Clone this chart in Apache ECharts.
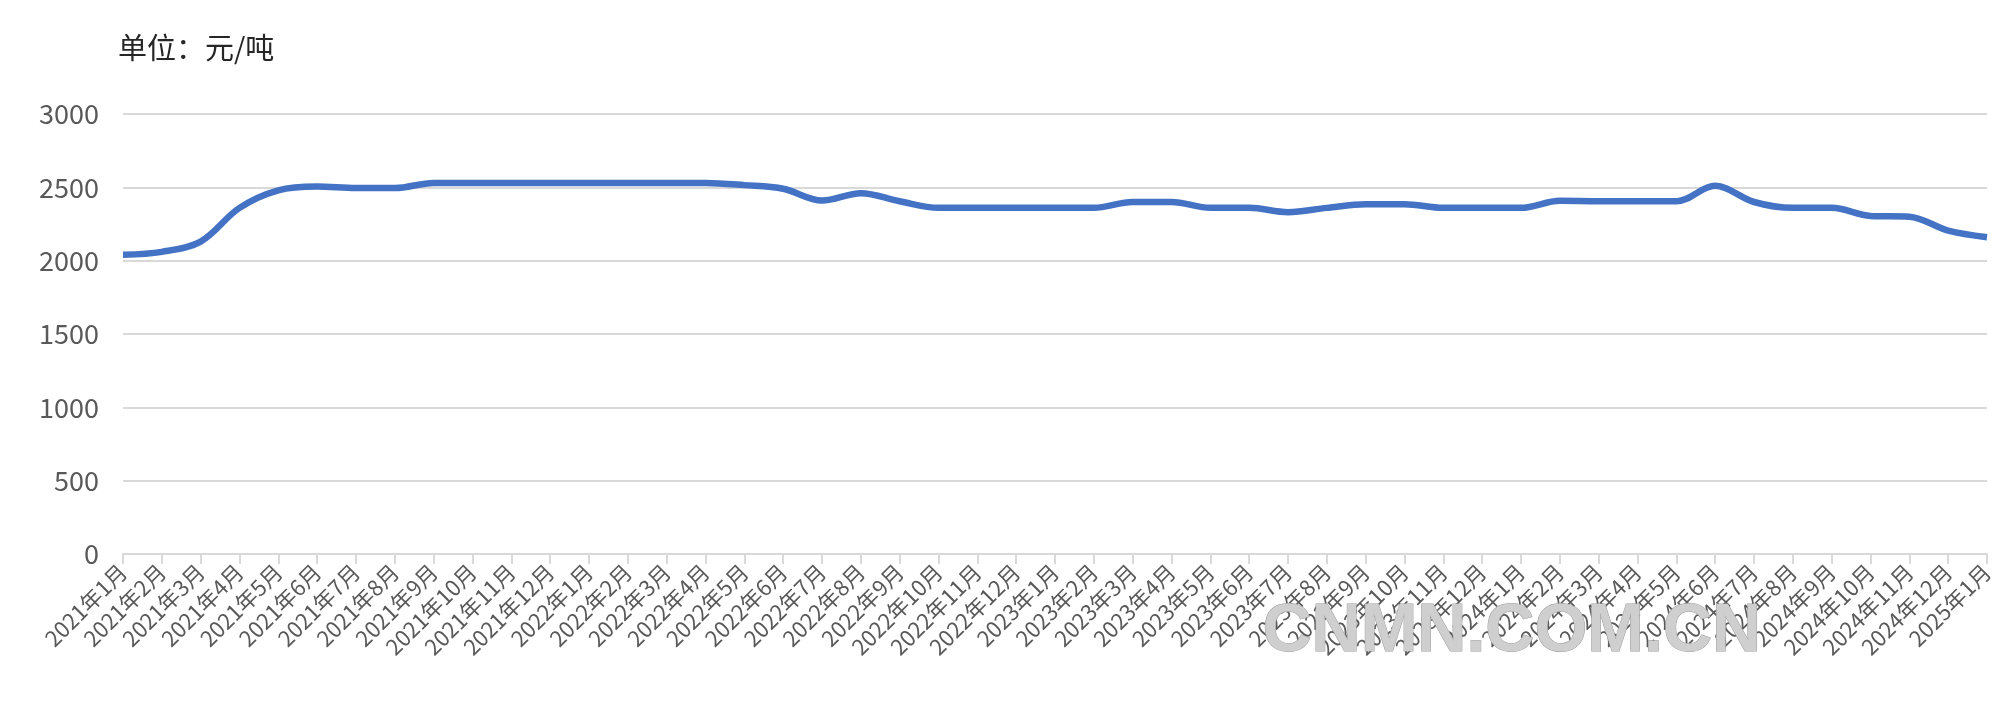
<!DOCTYPE html>
<html>
<head>
<meta charset="utf-8">
<script src="https://cdn.jsdelivr.net/npm/echarts@6/dist/echarts.min.js"></script>
<style>
html,body{margin:0;padding:0;background:#fff;}
#main{width:2013px;height:718px;}
</style>
</head>
<body>
<div id="main"></div>
<script>
const categories = [
  "2021年1月","2021年2月","2021年3月","2021年4月","2021年5月","2021年6月","2021年7月","2021年8月","2021年9月","2021年10月","2021年11月","2021年12月",
  "2022年1月","2022年2月","2022年3月","2022年4月","2022年5月","2022年6月","2022年7月","2022年8月","2022年9月","2022年10月","2022年11月","2022年12月",
  "2023年1月","2023年2月","2023年3月","2023年4月","2023年5月","2023年6月","2023年7月","2023年8月","2023年9月","2023年10月","2023年11月","2023年12月",
  "2024年1月","2024年2月","2024年3月","2024年4月","2024年5月","2024年6月","2024年7月","2024年8月","2024年9月","2024年10月","2024年11月","2024年12月",
  "2025年1月"
];
const prices = [
  2040,2060,2130,2360,2480,2505,2495,2495,2530,2530,2530,2530,
  2530,2530,2530,2530,2515,2490,2410,2460,2405,2360,2360,2360,
  2360,2360,2400,2400,2360,2360,2330,2360,2385,2385,2360,2360,
  2360,2408,2405,2405,2405,2510,2400,2360,2360,2305,2300,2205,
  2160
];
const unitLabel = "单位：元/吨";
const watermark = "CNMN.COM.CN";

const chart = echarts.init(document.getElementById('main'), null, {renderer: 'canvas'});
const font = '"Noto Sans CJK SC", "Microsoft YaHei", sans-serif';
chart.setOption({
  animation: false,
  backgroundColor: '#ffffff',
  title: {
    text: unitLabel,
    left: 113,
    top: 28,
    textStyle: {fontFamily: font, fontSize: 29, fontWeight: 'normal', color: '#262626'}
  },
  grid: {left: 123, right: 26, top: 114, bottom: 164, containLabel: false},
  xAxis: {
    type: 'category',
    data: categories,
    boundaryGap: false,
    axisLine: {show: true, lineStyle: {color: '#d9d9d9', width: 2}},
    axisTick: {show: true, length: 10, interval: 0, lineStyle: {color: '#d9d9d9', width: 2}},
    axisLabel: {interval: 0, rotate: 45, margin: 14, fontFamily: font, fontSize: 22, color: '#595959'},
    splitLine: {show: false}
  },
  yAxis: {
    type: 'value',
    min: 0,
    max: 3000,
    interval: 500,
    axisLine: {show: false},
    axisTick: {show: false},
    axisLabel: {margin: 24, fontFamily: font, fontSize: 27, color: '#595959', formatter: function (v) { return String(v); }},
    splitLine: {lineStyle: {color: '#d9d9d9', width: 2}}
  },
  series: [{
    type: 'line',
    data: prices,
    smooth: 0.35,
    showSymbol: false,
    lineStyle: {color: '#4472C4', width: 6.5},
    itemStyle: {color: '#4472C4'}
  }],
  graphic: [{
    type: 'text',
    left: 1262,
    top: 598,
    z: 100,
    style: {
      text: watermark,
      font: 'bold 68px "Liberation Sans", Arial, sans-serif',
      fill: '#cfcfcf',
      stroke: '#9c9c9c',
      lineWidth: 1,
      shadowColor: 'rgba(0,0,0,0.35)',
      shadowOffsetX: 2,
      shadowOffsetY: 2,
      shadowBlur: 2
    }
  }]
});
</script>
</body>
</html>
